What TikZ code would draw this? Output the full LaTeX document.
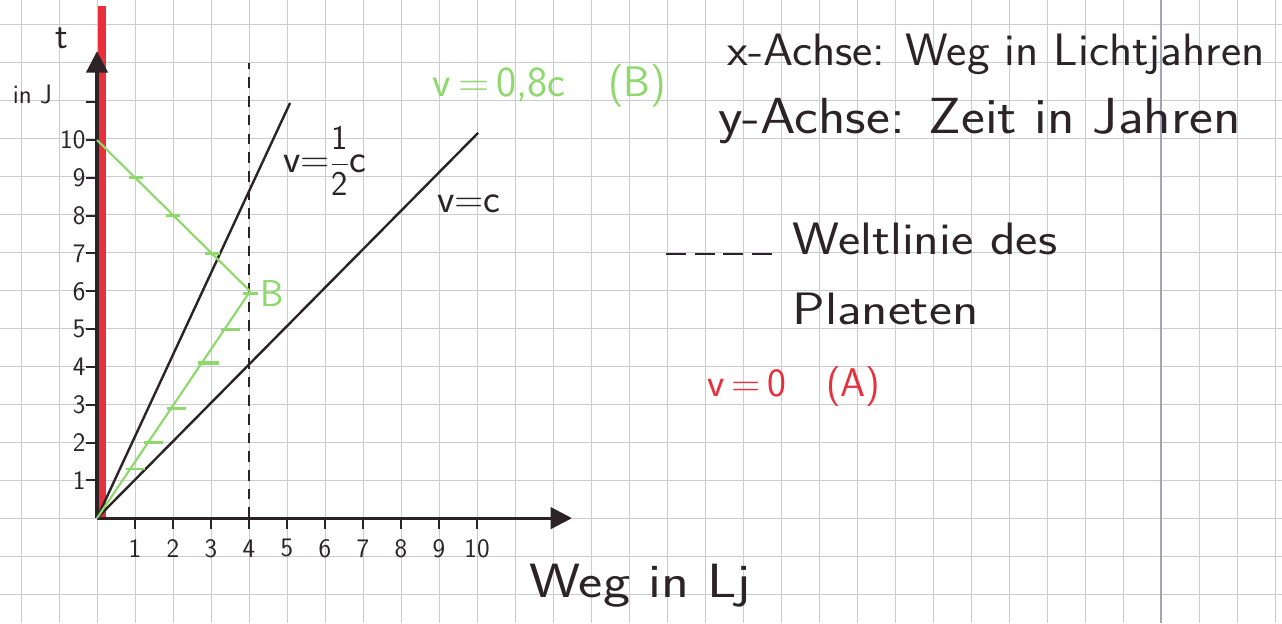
\documentclass[tikz,border=0pt]{standalone}
\usepackage{fontspec}
\usepackage{graphicx}
\usetikzlibrary{arrows.meta}
\definecolor{ink}{HTML}{2B2326}
\definecolor{gridc}{HTML}{CACAD9}
\definecolor{margc}{HTML}{A4A4B8}
\definecolor{pen}{HTML}{E8303C}
\definecolor{grn}{HTML}{8ED86C}
\newcommand\myfs[1]{\fontsize{#1}{#1}\selectfont}
\newcommand\wide[2]{\scalebox{#1}[1]{#2}}
\begin{document}
\begin{tikzpicture}[x=1cm,y=0.995cm,font=\sffamily,
  txt/.style={inner sep=0pt,text=ink},
  axisline/.style={ink,line width=2.3pt,-{Triangle[length=16pt,width=16pt]}},
  tickline/.style={ink,line width=1.5pt},
  worldline/.style={ink,line width=1.8pt},
  gline/.style={grn,line width=1.6pt},
  gmark/.style={grn,line width=2.2pt},
  planet/.style={ink,line width=1.6pt,dash pattern=on 8pt off 6pt},
  numlbl/.style={txt,font=\sffamily\myfs{20}}]
\useasboundingbox (-2.553,-2.778) rectangle (31.184,13.704);
\fill[white] (-2.553,-2.778) rectangle (31.184,13.704);
\draw[gridc,line width=0.6pt] (-2.553,-2.778) grid (31.184,13.704);
\draw[margc,line width=1.3pt] (28,-2.778) -- (28,13.704);

% red world line of A
\coordinate (O) at (0,0);
\coordinate (Rb) at (0.12,0);
\coordinate (Rt) at (0.12,13.55);
\draw[pen,line width=6pt] (Rb) -- (Rt);

% axes
\coordinate (ytop) at (0,12.35);
\coordinate (xend) at (12.5,0);
\draw[axisline] (O) -- (ytop);
\draw[axisline] (O) -- (xend);
\foreach \i in {1,...,11} \draw[tickline] (-0.3,\i) -- (0,\i);
\foreach \i in {1,...,10} \node[numlbl,anchor=east] (yl\i) at (-0.3,\i) {\i};
\foreach \i in {1,...,10} \draw[tickline] (\i,0) -- (\i,-0.3);
\foreach \i in {1,...,10} \node[numlbl] (xl\i) at (\i,-0.8) {\i};

\node[txt,font=\sffamily\myfs{28}] (tlab) at (-0.92,12.7) {t};
\node[txt,font=\sffamily\myfs{20}] (inJ) at (-1.7,11.2) {in J};
\node[txt,font=\sffamily\myfs{36}] (weg) at (14.29,-1.78) {\wide{1.2}{Weg in Lj}};

% planet world line (dashed)
\coordinate (p4) at (4,0);
\coordinate (p4top) at (4,12.05);
\draw[planet] (p4) -- (p4top);

% v = 1/2 c and v = c
\coordinate (H) at (5.08,10.98);
\coordinate (C) at (10.03,10.19);
\draw[worldline] (O) -- (H);
\draw[worldline] (O) -- (C);

% B: out and back
\coordinate (B) at (4.03,6.0);
\coordinate (T10) at (0,10);
\draw[gline] (O) -- (B);
\draw[gline] (T10) -- (B);
\foreach \t in {1.3,2.0,2.9,5.0} \draw[gmark] ({0.6717*\t-0.1},\t) -- ({0.6717*\t+0.4},\t);
\draw[grn,line width=3.5pt] ({0.6717*4.1-0.1},4.1) -- ({0.6717*4.1+0.45},4.1);
\draw[gmark] (0.85,9) -- (1.2,9);
\draw[gmark] (1.82,8) -- (2.18,8);
\draw[gmark] (2.84,7) -- (3.24,7);
\draw[gmark] (3.84,5.93) -- (4.24,5.93);
\node[txt,text=grn,font=\sffamily\myfs{28}] (Blab) at (4.62,5.95) {B};

% labels on lines
\node[txt,text=grn,font=\sffamily\myfs{32},anchor=west] (v08) at (8.82,11.44) {v\,=\,0,8c\quad(B)};
\node[txt,font=\sffamily\myfs{30},anchor=west] (vhalf) at (4.9,9.45) {v=$\displaystyle\frac{\textsf{\myfs{26}1}}{\textsf{\myfs{26}2}}$c};
\node[txt,font=\sffamily\myfs{30},anchor=west] (vc) at (8.95,8.32) {v=c};

% right-hand texts
\node[txt,font=\sffamily\myfs{34},anchor=west] (xax) at (16.58,12.26) {\wide{1.06}{x-Achse: Weg in Lichtjahren}};
\node[txt,font=\sffamily\myfs{38},anchor=west] (yax) at (16.34,10.5) {\wide{1.12}{y-Achse: Zeit in Jahren}};

\coordinate (L1) at (14.97,6.99);
\coordinate (L2) at (17.79,6.99);
\draw[ink,line width=1.6pt,dash pattern=on 15pt off 6.5pt] (L1) -- (L2);
\node[txt,font=\sffamily\myfs{34},anchor=west] (wl) at (18.29,7.39) {\wide{1.17}{Weltlinie des}};
\node[txt,font=\sffamily\myfs{34},anchor=west] (pl) at (18.29,5.53) {\wide{1.2}{Planeten}};
\node[txt,text=pen,font=\sffamily\myfs{30},anchor=west] (vA) at (16.05,3.48) {v\,=\,0\quad(A)};
\end{tikzpicture}
\end{document}
